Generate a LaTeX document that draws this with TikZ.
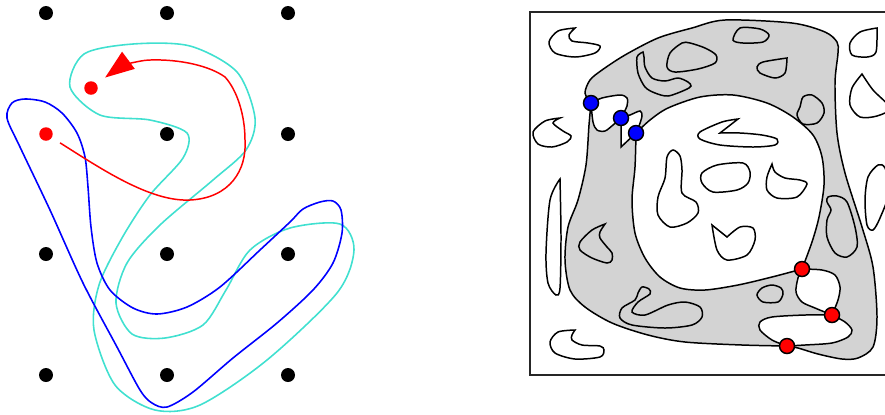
\documentclass[tikz,border=0pt]{standalone}
\usetikzlibrary{arrows.meta}
\definecolor{turq}{HTML}{40E0D0}
\definecolor{regiongrey}{HTML}{D3D3D3}
\tikzset{
  gdot/.style={circle, fill=black, inner sep=0pt, minimum size=0.28cm},
  rdot/.style={circle, fill=red, inner sep=0pt, minimum size=0.27cm},
  pdot/.style={circle, draw=black, line width=0.85pt, inner sep=0pt, minimum size=0.3cm},
  loopline/.style={line width=0.9pt},
  blob/.style={draw=black, line width=0.85pt},
  region/.style={draw=black, line width=0.85pt},
  redarr/.style={-{Triangle[length=0.58cm,width=0.42cm]}, draw=red, line width=0.85pt,
                 shorten <=0.19cm, shorten >=0.21cm},
}

\begin{document}
\begin{tikzpicture}[x=0.02cm, y=-0.02cm]
  \clip (0,0) rectangle (885,414);
  % --- lattice of points ---
  \foreach \c/\x in {1/46,2/167,3/288}{
    \foreach \r/\y in {1/13,2/134,3/254,4/375}{
      \ifnum\c\r=12 \else \node[gdot] (g\c\r) at (\x,\y) {}; \fi}}
  % --- the two loops ---
  \draw[loopline, draw=turq] plot[smooth cycle] coordinates {
    (70,87) (84,54) (133,44) (190,46) (237,72) (255,118) (246,150) (213,180)
    (160,225) (127,263) (116,303) (132,334) (165,338) (203,325) (226,290) (250,250)
    (290,228) (340,224) (354,250) (337,293) (267,360) (200,405) (155,410) (115,385)
    (94,330) (99,285) (122,238) (150,195) (183,158) (187,133) (150,120) (100,115)};
  \draw[loopline, draw=blue] plot[smooth cycle] coordinates {
    (7,118) (12,103) (25,99) (45,102) (62,113) (77,133) (85,157) (88,187) (91,227)
    (97,263) (110,290) (133,308) (157,314) (187,307) (220,287) (260,250) (290,222)
    (303,209) (320,202) (333,201) (341,210) (342,233) (333,263) (313,290) (277,323)
    (233,358) (193,392) (167,407) (152,403) (140,390) (117,347) (83,283) (50,210)
    (20,147)};
  % --- the path ---
  \node[rdot] (ra) at (46,134) {};
  \node[rdot] (rb) at (91,88) {};
  \draw[redarr] (ra) .. controls (100,168) and (150,202) .. (190,200)
    .. controls (230,198) and (247,170) .. (245,140)
    .. controls (245,115) and (237,90) .. (225,77)
    .. controls (210,66) and (180,59) .. (150,60)
    .. controls (138,60) and (118,68) .. (rb);

  % --- right: the region ---
  \draw[line width=0.85pt, draw=black!85] (530,12) rectangle (900,375);
  \coordinate (pb1) at (591,103);
  \coordinate (pb2) at (621,118);
  \coordinate (pb3) at (636,133);
  \coordinate (pr1) at (802,269);
  \coordinate (pr2) at (832,315);
  \coordinate (pr3) at (787,346);
  % outer boundary
  \filldraw[region, fill=regiongrey]
    plot[smooth] coordinates {(pr3) (742,345) (685,342) (648,335) (612,323) (585,307)
      (570,290) (565,260) (568,227) (578,200) (586,165) (589,125) (pb1)}
    -- plot[smooth] coordinates {(pb1) (585,93) (590,80) (602,70) (625,55) (658,38)
      (692,28) (725,20) (792,23) (825,32) (837,42) (838,53) (835,83) (837,133)
      (845,173) (862,227) (873,267) (877,317) (873,347) (858,358) (842,359) (818,354)
      (798,348) (pr3)} -- cycle;
  % inner hole
  \filldraw[region, fill=white]
    plot[smooth] coordinates {(pb3) (650,120) (668,108) (700,97) (733,95) (767,103)
      (793,117) (813,135) (822,157) (824,185) (819,217) (812,242) (pr1)}
    -- plot[smooth] coordinates {(pr1) (772,277) (738,285) (705,290) (680,288)
      (660,277) (645,258) (635,233) (632,200) (635,167) (pb3)} -- cycle;
  % pockets between the points
  \filldraw[region, fill=white]
    plot[smooth] coordinates {(pb1) (602,98) (620,95) (627,98) (627,106) (pb2)}
    -- plot[smooth] coordinates {(pb2) (613,125) (605,131) (597,130) (593,122) (pb1)} -- cycle;
  \filldraw[region, fill=white]
    plot[smooth] coordinates {(pb2) (630,115) (640,111) (642,116) (639,126) (pb3)}
    -- (621,147) -- cycle;
  \filldraw[region, fill=white]
    plot[smooth] coordinates {(pr1) (822,270) (835,275) (840,287) (838,300) (pr2)}
    -- plot[smooth] coordinates {(pr2) (815,308) (802,302) (796,292) (798,278) (pr1)} -- cycle;
  \filldraw[region, fill=white]
    plot[smooth] coordinates {(pr2) (845,322) (852,330) (848,337) (832,343) (805,345) (pr3)}
    -- plot[smooth] coordinates {(pr3) (772,340) (760,330) (760,322) (772,317) (805,315) (pr2)} -- cycle;

  % --- obstacles ---
  \draw[blob] plot[smooth] coordinates {(575,28) (558,31) (549,42) (555,53) (575,57)
    (595,53) (600,46) (588,43) (572,41) (569,35) (575,28)} -- cycle;
  \draw[blob] plot[smooth] coordinates {(560,118) (545,121) (533,132) (538,144) (552,147)
    (567,142) (571,136) (563,131) (553,123) (560,118)} -- cycle;
  \draw[blob] plot[smooth] coordinates {(560,179) (550,200) (546,253) (548,283) (556,295)
    (560,288) (561,237) (560,179)} -- cycle;
  \draw[blob] plot[smooth] coordinates {(575,330) (558,332) (550,342) (555,353) (575,359)
    (600,357) (604,350) (600,346) (582,345) (572,340) (572,335) (575,330)} -- cycle;
  \draw[blob] plot[smooth] coordinates {(605,224) (592,230) (580,242) (580,250) (592,258)
    (607,263) (612,260) (612,253) (607,247) (600,238) (600,232) (605,224)} -- cycle;
  \draw[blob] plot[smooth] coordinates {(643,52) (637,57) (638,73) (645,87) (655,93)
    (668,96) (685,90) (691,86) (688,82) (678,78) (665,81) (652,78) (645,67) (644,57)
    (643,52)} -- cycle;
  \draw[blob] plot[smooth cycle] coordinates {(682,43) (670,53) (667,67) (675,72) (698,69)
    (715,63) (716,55) (705,48) (690,43)};
  \draw[blob] plot[smooth cycle] coordinates {(740,28) (733,40) (743,43) (763,42) (769,35)
    (760,29)};
  \draw[blob] plot[smooth] coordinates {(787,58) (763,62) (757,67) (760,73) (775,78)
    (785,73) (787,58)} -- cycle;
  \draw[blob] plot[smooth cycle] coordinates {(803,97) (812,95) (822,103) (824,113)
    (817,123) (803,124) (797,115) (800,107)};
  \draw[blob] plot[smooth cycle] coordinates {(828,197) (837,196) (847,202) (855,227)
    (857,247) (847,257) (835,253) (827,237) (827,220) (831,210) (827,202)};
  \draw[blob] plot[smooth cycle] coordinates {(772,285) (781,288) (783,294) (778,302)
    (763,302) (757,295) (762,288)};
  \draw[blob] plot[smooth cycle] coordinates {(642,287) (649,289) (650,294) (638,302)
    (632,312) (645,315) (668,305) (685,302) (700,307) (702,317) (692,325) (665,328)
    (632,325) (620,318) (622,308) (635,300) (638,293)};
  \draw[blob] plot[smooth] coordinates {(877,28) (860,32) (850,43) (852,55) (867,57)
    (876,52) (877,28)} -- cycle;
  \draw[blob] plot[smooth] coordinates {(862,74) (852,88) (850,105) (860,117) (877,116)
    (890,108) (873,90) (862,74)} -- cycle;
  \draw[blob] plot[smooth cycle] coordinates {(878,165) (868,177) (865,200) (867,225)
    (873,230) (880,218) (890,190) (885,168)};
  % inside the hole
  \draw[blob] plot[smooth] coordinates {(738,119) (722,122) (700,132) (700,139) (720,145)
    (753,147) (775,145) (777,139) (762,135) (740,133) (720,133)} -- cycle;
  \draw[blob] plot[smooth cycle] coordinates {(743,163) (717,165) (702,173) (702,183)
    (713,192) (737,190) (748,183) (750,172)};
  \draw[blob] plot[smooth] coordinates {(772,164) (767,177) (767,190) (777,198) (797,197)
    (807,184) (800,180) (785,178) (775,172) (772,164)} -- cycle;
  \draw[blob] plot[smooth cycle] coordinates {(673,150) (680,156) (682,170) (682,193)
    (696,202) (698,213) (687,223) (670,227) (658,215) (658,197) (665,178) (667,157)};
  \draw[blob] plot[smooth] coordinates {(727,237) (740,227) (753,228) (755,240) (747,255)
    (727,260) (717,250) (712,225)} -- cycle;

  % --- points on the boundary ---
  \foreach \n in {1,2,3}{
    \node[pdot, fill=blue] (b\n) at (pb\n) {};
    \node[pdot, fill=red] (r\n) at (pr\n) {};}
\end{tikzpicture}
\end{document}
